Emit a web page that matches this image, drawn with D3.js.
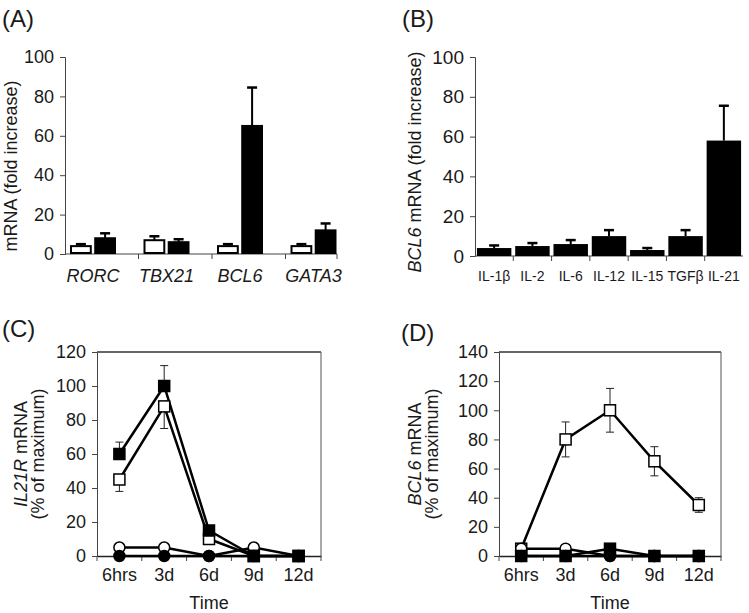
<!DOCTYPE html>
<html><head><meta charset="utf-8">
<script src="https://cdn.jsdelivr.net/npm/d3@7"></script>
<style>
body{margin:0;background:#fff;}
svg text{font-family:"Liberation Sans",Arial,sans-serif;fill:#1a1a1a;}
</style></head>
<body><svg id="c" width="749" height="613"></svg>
<script>
// Panel A
const catsA = ["RORC","TBX21","BCL6","GATA3"];
const ctrlA = [4,7,4,4];
const ctrlErrA = [1,2,1,1];
const treatA = [8,6,65,12];
const treatErrA = [2.5,1.5,19.5,3.5];
const ticksAB = [0,20,40,60,80,100];
// Panel B
const catsB = ["IL-1β","IL-2","IL-6","IL-12","IL-15","TGFβ","IL-21"];
const valsB = [4,5,6,10,3,10,58];
const errB = [1.3,1.5,2,3,1,3,17.5];
// Panels C, D
const timeLabels = ["6hrs","3d","6d","9d","12d"];
const ticksC = [0,20,40,60,80,100,120];
const ticksD = [0,20,40,60,80,100,120,140];
const blackSqC = [60,100,15,0,0];
const blackSqErrUpC = [7,12,0,0,0];
const whiteSqC = [45,88,10,0,0];
const whiteSqErrDownC = [7,13,0,0,0];
const whiteCircC = [5,5,0,5,0];
const blackCircC = [0,0,0,0,0];
const whiteSqD = [5,80,100,65,35];
const whiteSqErrD = [0,12,15,10,5];
const whiteCircD = [5,5,0,0,0];
const blackSqD = [0,0,5,0,0];
const blackCircD = [0,0,0,0,0];

const svg = d3.select("#c");
const FS = 18;

function panelLabel(t,x,y){
  svg.append("text").attr("x",x).attr("y",y).attr("font-size",24).text(t);
}
function yAxisLeft(g, y, ticks, x0, fs){
  g.append("g").attr("transform",`translate(${x0},0)`)
   .call(d3.axisLeft(y).tickValues(ticks).tickSize(5).tickPadding(6))
   .call(a=>{a.selectAll("text").attr("font-size",fs||FS).attr("font-family","Liberation Sans, Arial");
             a.selectAll("line,path").attr("stroke","#444");});
}

// ---------- Panel A ----------
panelLabel("(A)",2,27);
{
  const g = svg.append("g");
  const x0=65, x1=337;
  const y = d3.scaleLinear().domain([0,100]).range([254,57]);
  const x = d3.scaleBand().domain(catsA).range([x0, x0+4*73.5]);
  const sub = d3.scaleBand().domain(["c","t"]).range([5,51]).paddingInner(0.1);
  yAxisLeft(g,y,ticksAB,x0);
  g.append("line").attr("x1",x0).attr("x2",x1).attr("y1",y(0)).attr("y2",y(0)).attr("stroke","#444");
  catsA.forEach((c,i)=>{ if(i>0) g.append("line").attr("x1",x(c)).attr("x2",x(c)).attr("y1",y(0)).attr("y2",y(0)+5).attr("stroke","#444");});
  g.append("line").attr("x1",x1).attr("x2",x1).attr("y1",y(0)).attr("y2",y(0)+5).attr("stroke","#444");
  const series=[["c",ctrlA,ctrlErrA,"#fff"],["t",treatA,treatErrA,"#000"]];
  series.forEach(([k,vals,errs,fill])=>{
    catsA.forEach((c,i)=>{
      const bx = x(c)+sub(k), bw = sub.bandwidth();
      const cx = bx+bw/2;
      g.append("line").attr("x1",cx).attr("x2",cx).attr("y1",y(vals[i])).attr("y2",y(vals[i]+errs[i])).attr("stroke","#000").attr("stroke-width",2);
      g.append("line").attr("x1",cx-5).attr("x2",cx+5).attr("y1",y(vals[i]+errs[i])).attr("y2",y(vals[i]+errs[i])).attr("stroke","#000").attr("stroke-width",2.5);
      g.append("rect").attr("x",bx+1).attr("y",y(vals[i])).attr("width",bw-2).attr("height",y(0)-y(vals[i])-1)
        .attr("fill",fill).attr("stroke","#000").attr("stroke-width",2);
    });
  });
  catsA.forEach(c=>{
    g.append("text").attr("x",x(c)+28).attr("y",282).attr("text-anchor","middle").attr("font-size",FS).attr("font-style","italic").text(c);
  });
  g.append("text").attr("transform","translate(17,166) rotate(-90)").attr("text-anchor","middle").attr("font-size",FS).text("mRNA (fold increase)");
}

// ---------- Panel B ----------
panelLabel("(B)",402,27);
{
  const g = svg.append("g");
  const x0=475, x1=743;
  const y = d3.scaleLinear().domain([0,100]).range([256,57]);
  const x = d3.scaleBand().domain(catsB).range([x0,x1]).paddingInner(0.1).paddingOuter(0.05);
  yAxisLeft(g,y,ticksAB,x0,19);
  g.append("line").attr("x1",x0).attr("x2",x1).attr("y1",y(0)).attr("y2",y(0)).attr("stroke","#444");
  catsB.forEach((c,i)=>{ if(i>0) g.append("line").attr("x1",x0+i*(x1-x0)/7).attr("x2",x0+i*(x1-x0)/7).attr("y1",y(0)).attr("y2",y(0)+5).attr("stroke","#444");});
  catsB.forEach((c,i)=>{
    const bx=x(c), bw=x.bandwidth(), cx=bx+bw/2;
    g.append("line").attr("x1",cx).attr("x2",cx).attr("y1",y(valsB[i])).attr("y2",y(valsB[i]+errB[i])).attr("stroke","#000").attr("stroke-width",2);
    g.append("line").attr("x1",cx-5).attr("x2",cx+5).attr("y1",y(valsB[i]+errB[i])).attr("y2",y(valsB[i]+errB[i])).attr("stroke","#000").attr("stroke-width",2.5);
    g.append("rect").attr("x",bx).attr("y",y(valsB[i])).attr("width",bw).attr("height",y(0)-y(valsB[i])).attr("fill","#000");
    g.append("text").attr("x",cx).attr("y",281).attr("text-anchor","middle").attr("font-size",14).text(c);
  });
  const t = g.append("text").attr("transform","translate(421,162) rotate(-90)").attr("text-anchor","middle").attr("font-size",FS);
  t.append("tspan").attr("font-style","italic").text("BCL6");
  t.append("tspan").text(" mRNA (fold increase)");
}

// ---------- line panels ----------
function linePanel(opt){
  const g = svg.append("g");
  const {x0,x1,y0,y1,max,ticks} = opt;
  const y = d3.scaleLinear().domain([0,max]).range([y0,y1]);
  const x = d3.scaleBand().domain(timeLabels).range([x0,x1]);
  const cx = d => x(d)+x.bandwidth()/2;
  g.append("line").attr("x1",x0).attr("x2",x1).attr("y1",y1).attr("y2",y1).attr("stroke","#333").attr("stroke-width",1.3);
  g.append("line").attr("x1",x1).attr("x2",x1).attr("y1",y1).attr("y2",y0).attr("stroke","#555").attr("stroke-width",1);
  yAxisLeft(g,y,ticks,x0);
  g.append("g").attr("transform",`translate(0,${y0})`)
   .call(d3.axisBottom(x).tickSize(0).tickPadding(12))
   .call(a=>{a.selectAll("text").attr("font-size",FS).attr("font-family","Liberation Sans, Arial");
             a.select("path").attr("stroke","#222").attr("stroke-width",1.5);});
  for(let i=0;i<=timeLabels.length;i++){
    const tx = x0 + i*x.step();
    g.append("line").attr("x1",tx).attr("x2",tx).attr("y1",y0).attr("y2",y0+5).attr("stroke","#444");
  }
  g.append("text").attr("x",(x0+x1)/2).attr("y",609).attr("text-anchor","middle").attr("font-size",FS).text("Time");
  const t1 = g.append("text").attr("transform",`translate(${opt.tx1},${(y0+y1)/2}) rotate(-90)`).attr("text-anchor","middle").attr("font-size",FS);
  t1.append("tspan").attr("font-style","italic").text(opt.gene);
  t1.append("tspan").text(" mRNA");
  g.append("text").attr("transform",`translate(${opt.tx2},${(y0+y1)/2}) rotate(-90)`).attr("text-anchor","middle").attr("font-size",FS).text("(% of maximum)");
  const line = d3.line().x((d,i)=>cx(timeLabels[i])).y(d=>y(d));
  opt.series.forEach(s=>{
    s.vals.forEach((v,i)=>{
      const px=cx(timeLabels[i]);
      if(s.errUp && s.errUp[i]>0){
        g.append("line").attr("x1",px).attr("x2",px).attr("y1",y(v)).attr("y2",y(v+s.errUp[i])).attr("stroke","#222");
        g.append("line").attr("x1",px-4).attr("x2",px+4).attr("y1",y(v+s.errUp[i])).attr("y2",y(v+s.errUp[i])).attr("stroke","#222");
      }
      if(s.errDown && s.errDown[i]>0){
        g.append("line").attr("x1",px).attr("x2",px).attr("y1",y(v)).attr("y2",y(v-s.errDown[i])).attr("stroke","#222");
        g.append("line").attr("x1",px-4).attr("x2",px+4).attr("y1",y(v-s.errDown[i])).attr("y2",y(v-s.errDown[i])).attr("stroke","#222");
      }
    });
  });
  opt.series.forEach(s=>{
    g.append("path").attr("d",line(s.vals)).attr("fill","none").attr("stroke","#000").attr("stroke-width",2.5);
  });
  opt.series.forEach(s=>{
    s.vals.forEach((v,i)=>{
      const px=cx(timeLabels[i]), py=y(v);
      if(s.shape==="sq"){
        g.append("rect").attr("x",px-5.5).attr("y",py-5.5).attr("width",11).attr("height",11)
          .attr("fill",s.fill).attr("stroke","#000").attr("stroke-width",1.5);
      } else {
        g.append("circle").attr("cx",px).attr("cy",py).attr("r",5.5)
          .attr("fill",s.fill).attr("stroke","#000").attr("stroke-width",1.5);
      }
    });
  });
}

panelLabel("(C)",2,337);
linePanel({x0:97,x1:321,y0:556,y1:352,max:120,ticks:ticksC,gene:"IL21R",tx1:27,tx2:44,
  series:[
    {vals:whiteCircC,shape:"ci",fill:"#fff"},
    {vals:blackCircC,shape:"ci",fill:"#000"},
    {vals:whiteSqC,shape:"sq",fill:"#fff",errDown:whiteSqErrDownC},
    {vals:blackSqC,shape:"sq",fill:"#000",errUp:blackSqErrUpC}
  ]});

panelLabel("(D)",401,341);
linePanel({x0:499,x1:721,y0:556,y1:352,max:140,ticks:ticksD,gene:"BCL6",tx1:421,tx2:438,
  series:[
    {vals:whiteSqD,shape:"sq",fill:"#fff",errUp:whiteSqErrD,errDown:whiteSqErrD},
    {vals:whiteCircD,shape:"ci",fill:"#fff"},
    {vals:blackSqD,shape:"sq",fill:"#000"},
    {vals:blackCircD,shape:"ci",fill:"#000"}
  ]});
</script></body></html>
